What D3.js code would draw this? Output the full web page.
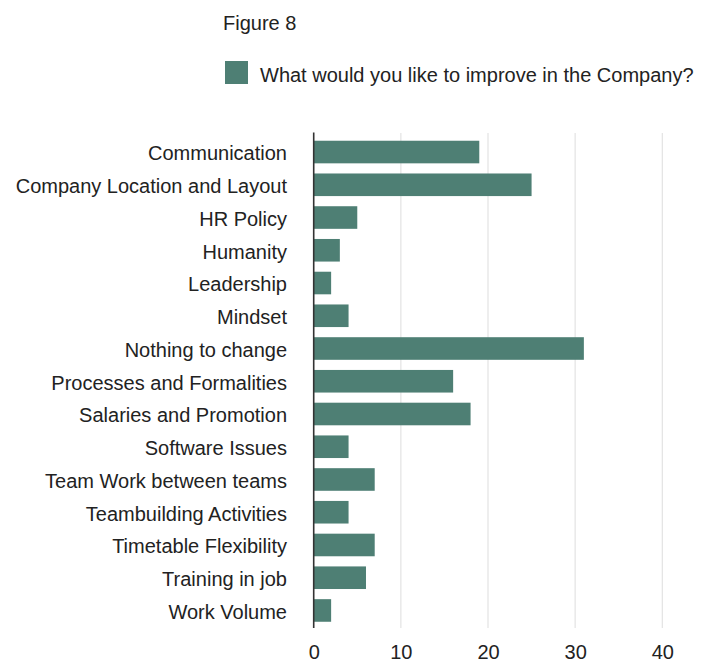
<!DOCTYPE html>
<html>
<head>
<meta charset="utf-8">
<script src="https://cdn.jsdelivr.net/npm/d3@7/dist/d3.min.js"></script>
<style>
  html, body { margin: 0; padding: 0; background: #fff; }
  svg text { font-family: "Liberation Sans", Arial, sans-serif; fill: #222; }
</style>
</head>
<body>
<svg id="chart" width="701" height="664"></svg>
<script>
// Survey answers: what respondents would like to improve
const categories = [
  "Communication",
  "Company Location and Layout",
  "HR Policy",
  "Humanity",
  "Leadership",
  "Mindset",
  "Nothing to change",
  "Processes and Formalities",
  "Salaries and Promotion",
  "Software Issues",
  "Team Work between teams",
  "Teambuilding Activities",
  "Timetable Flexibility",
  "Training in job",
  "Work Volume"
];
const counts = [19, 25, 5, 3, 2, 4, 31, 16, 18, 4, 7, 4, 7, 6, 2];
const xTicks = [0, 10, 20, 30, 40];
const seriesName = "What would you like to improve in the Company?";
const figureTitle = "Figure 8";

const barColor = "#4e7f74";
const fontSize = 20;
const svg = d3.select("#chart");

const margin = { left: 313.7, right: 38.7, top: 135.5, bottom: 37 };
const W = 701, H = 664;

const x = d3.scaleLinear().domain([0, 40]).range([margin.left, W - margin.right]);
const y = d3.scaleBand().domain(categories)
  .range([margin.top, H - margin.bottom]).paddingInner(0.31).paddingOuter(0.16);

// vertical gridlines
svg.append("g").selectAll("line").data(xTicks.filter(d => d > 0)).join("line")
  .attr("x1", d => x(d)).attr("x2", d => x(d))
  .attr("y1", 133).attr("y2", 628)
  .attr("stroke", "#e3e3e3").attr("stroke-width", 1.2);

// bars
svg.append("g").selectAll("rect").data(categories).join("rect")
  .attr("x", x(0))
  .attr("y", d => y(d))
  .attr("width", (d, i) => x(counts[i]) - x(0))
  .attr("height", y.bandwidth())
  .attr("fill", barColor);

// baseline
svg.append("line")
  .attr("x1", x(0)).attr("x2", x(0)).attr("y1", 132.5).attr("y2", 628)
  .attr("stroke", "#333").attr("stroke-width", 1.6);

// x axis labels
const xAxis = d3.axisBottom(x).tickValues(xTicks).tickSize(0).tickPadding(0);
const gx = svg.append("g").attr("transform", "translate(0,645)").call(xAxis);
gx.select(".domain").remove();
gx.selectAll("text").attr("font-size", fontSize).attr("dy", "0.71em")
  .style("font-family", "'Liberation Sans', Arial, sans-serif").attr("fill", "#222");

// category labels
const yAxis = d3.axisLeft(y).tickSize(0).tickPadding(0);
const gy = svg.append("g").attr("transform", "translate(287,0)").call(yAxis);
gy.select(".domain").remove();
gy.selectAll("text").attr("font-size", fontSize).attr("dy", "0.42em")
  .style("font-family", "'Liberation Sans', Arial, sans-serif").attr("fill", "#222");

// title
svg.append("text").attr("x", 223).attr("y", 30).attr("font-size", fontSize).text(figureTitle);

// legend
svg.append("rect").attr("x", 225).attr("y", 61).attr("width", 23).attr("height", 23).attr("fill", barColor);
svg.append("text").attr("x", 260).attr("y", 82).attr("font-size", fontSize).text(seriesName);
</script>
</body>
</html>
